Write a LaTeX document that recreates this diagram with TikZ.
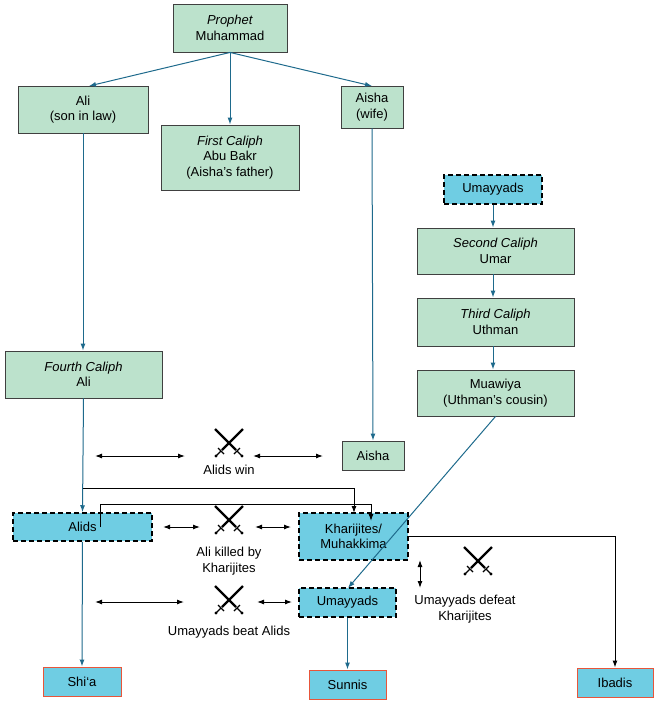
\documentclass[tikz,border=0pt]{standalone}
\usepackage{fontspec}
\setmainfont{Liberation Sans}
\usetikzlibrary{arrows.meta}
\definecolor{gr}{HTML}{BCE2CC}
\definecolor{bl}{HTML}{6FCDE3}
\definecolor{tl}{HTML}{1E6A8C}
\definecolor{rd}{HTML}{E8553A}
\tikzset{
 base/.style={draw=black!75,line width=0.9pt,align=center,font=\fontsize{13}{15.5}\selectfont,inner sep=0pt},
 gbox/.style={base,fill=gr},
 dbox/.style={base,fill=bl,dashed,dash pattern=on 5pt off 3pt,line width=1.5pt,draw=black},
 rbox/.style={base,fill=bl,draw=rd,line width=1pt},
 ta/.style={draw=tl,line width=1pt,-{Latex[length=7pt,width=5pt]}},
 ba/.style={draw=black,line width=1pt,-{Latex[length=7pt,width=5pt]}},
 da/.style={draw=black,line width=1pt,{Latex[length=7pt,width=5pt]}-{Latex[length=7pt,width=5pt]}},
 lab/.style={align=center,font=\fontsize{13}{15.5}\selectfont},
 sw/.pic={
  \draw[line width=2.2pt] (14,-14) -- (-7,7);
  \draw[line width=2.2pt] (-14,-14) -- (7,7);
  \draw[line width=1.2pt] (-11,5) -- (-5,11) (11,5) -- (5,11);
  \draw[line width=1.2pt] (-8,8) -- (-13,13) (8,8) -- (13,13);
  \fill (-13,13) circle (1.6) (13,13) circle (1.6);
 }
}
\begin{document}
\begin{tikzpicture}[x=1pt,y=-1pt]
\useasboundingbox (0,0) rectangle (659,704);
\node[gbox,minimum width=114,minimum height=48] (pm) at (230,28) {\textit{Prophet}\\Muhammad};
\node[gbox,minimum width=130,minimum height=47] (ali) at (83,109.5) {Ali\\(son in law)};
\node[gbox,minimum width=138,minimum height=65] (ab) at (230,157.5) {\textit{First Caliph}\\Abu Bakr\\(Aisha's father)};
\node[gbox,minimum width=62,minimum height=42] (ai) at (372,107) {Aisha\\(wife)};
\node[dbox,minimum width=98,minimum height=29] (um1) at (493,189.5) {Umayyads};
\node[gbox,minimum width=157,minimum height=46] (umar) at (495.5,251) {\textit{Second Caliph}\\Umar};
\node[gbox,minimum width=157,minimum height=48] (uth) at (495.5,322) {\textit{Third Caliph}\\Uthman};
\node[gbox,minimum width=157,minimum height=46] (mua) at (495.5,393) {Muawiya\\(Uthman's cousin)};
\node[gbox,minimum width=157,minimum height=47] (ali4) at (83.5,374.5) {\textit{Fourth Caliph}\\Ali};
\node[gbox,minimum width=62,minimum height=29] (ai2) at (373,455.5) {Aisha};
\node[dbox,minimum width=139,minimum height=28] (alids) at (82.5,527) {Alids};
\node[dbox,minimum width=109,minimum height=47] (kh) at (353.5,536.5) {Kharijites/\\Muhakkima};
\node[dbox,minimum width=97,minimum height=29] (um2) at (347.5,602.5) {Umayyads};
\node[rbox,minimum width=78,minimum height=29] (shia) at (82,681.5) {Shi‘a};
\node[rbox,minimum width=77,minimum height=29] (sun) at (347.5,684.5) {Sunnis};
\node[rbox,minimum width=76,minimum height=29] (iba) at (615,682.5) {Ibadis};

\draw[ta] (pm.south) -- (89,86);
\draw[ta] (pm.south) -- (372,86);
\draw[ta] (pm.south) -- (ab.north);
\draw[ta] (ali.south) -- (ali4.north -| ali.south);
\draw[ta] (ai.south) -- (ai2.north);
\draw[ta] (um1.south) -- (um1.south |- umar.north);
\draw[ta] (umar.south -| um1.south) -- (uth.north -| um1.south);
\draw[ta] (uth.south -| um1.south) -- (mua.north -| um1.south);
\draw[ta] (mua.south) -- (348,588);
\draw[ta] (ali4.south) -- (alids.north);
\draw[ta] (alids.south) -- (shia.north);
\draw[ta] (um2.south) -- (sun.north);

\coordinate (j1) at (83,488);
\coordinate (j2) at (100,527);
\draw[ba] (j1) -- (354,488) -- (354,513);
\draw[ba] (j2) -- (100,504) -- (371,504) -- (371,521);
\draw[ba] (kh.east |- 0,536) -- (615,536) -- (iba.north);

\coordinate (a1) at (95,456); \coordinate (a2) at (185,456);
\coordinate (a3) at (253,456); \coordinate (a4) at (323,456);
\draw[da] (a1) -- (a2); \draw[da] (a3) -- (a4);
\coordinate (b1) at (163,527); \coordinate (b2) at (200,527);
\coordinate (b3) at (255,527); \coordinate (b4) at (291,527);
\draw[da] (b1) -- (b2); \draw[da] (b3) -- (b4);
\coordinate (c1) at (95,602); \coordinate (c2) at (184,602);
\coordinate (c3) at (257,602); \coordinate (c4) at (292,602);
\draw[da] (c1) -- (c2); \draw[da] (c3) -- (c4);
\coordinate (d1) at (420,560); \coordinate (d2) at (420,588);
\draw[da] (d1) -- (d2);

\pic at (229,443) {sw};
\pic at (229,520) {sw};
\pic at (229,600) {sw};
\pic at (478,561) {sw};
\node[lab] (l1) at (229,470) {Alids win};
\node[lab] (l2) at (229,561) {Ali killed by\\Kharijites};
\node[lab] (l3) at (229,632) {Umayyads beat Alids};
\node[lab] (l4) at (465,609) {Umayyads defeat\\Kharijites};
\end{tikzpicture}
\end{document}
